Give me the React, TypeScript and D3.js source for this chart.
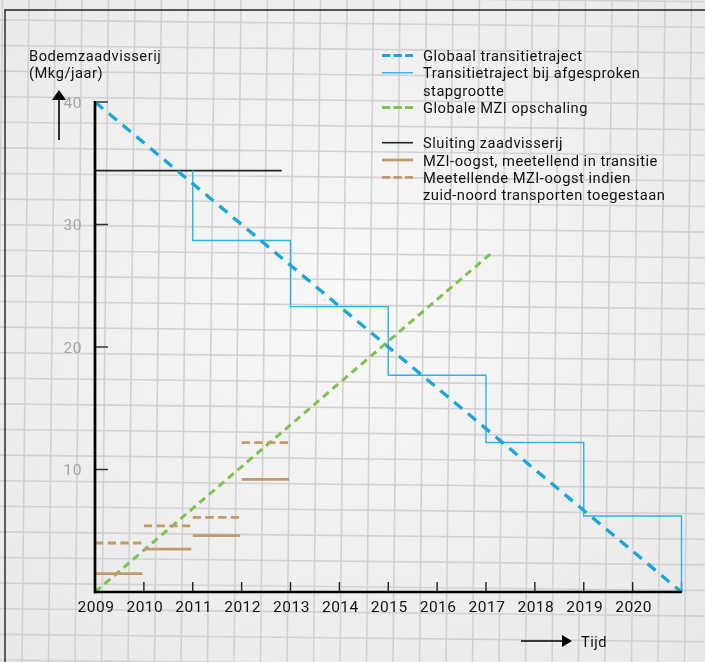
import React from "react";
import * as d3 from "d3";

const W = 705;
const H = 662;

const yearTicks = [2009, 2010, 2011, 2012, 2013, 2014, 2015, 2016, 2017, 2018, 2019, 2020];
const yTicks = [10, 20, 30, 40];

// Global transition trajectory (dashed blue)
const globalTransition = [
  { x: 2009, y: 40 },
  { x: 2021, y: 0 },
];
// Stepped transition trajectory (solid blue)
const stepYears = [2011, 2013, 2015, 2017, 2019, 2021];
const stepValues = [34.4, 28.7, 23.3, 17.7, 12.2, 6.2, 0];
// Global MZI scaling (dashed green)
const globalMZI = [
  { x: 2009, y: 0 },
  { x: 2017.12, y: 27.7 },
];
// Closure seed fishery (black)
const closure = [
  { x: 2009, y: 34.4 },
  { x: 2012.82, y: 34.4 },
];
// MZI harvest
const mziStart = [2009, 2010, 2011, 2012];
const mziSolid = [1.5, 3.5, 4.6, 9.2];
const mziDashed = [4.0, 5.4, 6.1, 12.2];

const legendItems = [
  { label: ["Globaal transitietraject"], color: "#1ba6da", dash: "8.3 3.3", width: 3, gap: 0 },
  { label: ["Transitietraject bij afgesproken", "stapgrootte"], color: "#2ab3e3", dash: null, width: 1.4, gap: 0 },
  { label: ["Globale MZI opschaling"], color: "#7cc251", dash: "8.3 3.3", width: 3, gap: 0 },
  { label: ["Sluiting zaadvisserij"], color: "#222", dash: null, width: 1.6, gap: 1 },
  { label: ["MZI-oogst, meetellend in transitie"], color: "#c09a68", dash: null, width: 2.8, gap: 0 },
  { label: ["Meetellende MZI-oogst indien", "zuid-noord transporten toegestaan"], color: "#c09a68", dash: "8.3 3.3", width: 2.8, gap: 0 },
];

const FONT = "Roboto, 'Open Sans', sans-serif";
const FS = 14.7;
const LS = 0.5;

export default function App() {
  const x = d3.scaleLinear().domain([2009, 2021]).range([95, 681.5]);
  const y = d3.scaleLinear().domain([0, 40]).range([592, 102]);
  const line = d3
    .line<{ x: number; y: number }>()
    .x((d) => x(d.x))
    .y((d) => y(d.y));

  // stepped path
  const stepPts: { x: number; y: number }[] = [];
  stepPts.push({ x: stepYears[0], y: stepValues[0] });
  stepYears.forEach((yr, i) => {
    stepPts.push({ x: yr, y: stepValues[i] });
    stepPts.push({ x: yr, y: stepValues[i + 1] });
    if (i + 1 < stepYears.length) stepPts.push({ x: stepYears[i + 1], y: stepValues[i + 1] });
  });

  // grid of the paper
  const vGrid = d3.range(-1, W + 30, 26.5);
  const hGrid = d3.range(-2, H + 30, 25.6);

  // legend layout
  let ly = 61;
  const legendRows: { item: (typeof legendItems)[number]; y: number }[] = [];
  legendItems.forEach((it) => {
    if (it.gap) ly += 18;
    legendRows.push({ item: it, y: ly });
    ly += 17.3 * it.label.length;
  });

  return (
    <div style={{ position: "fixed", left: 0, top: 0 }}>
      <svg width={W} height={H} style={{ display: "block", fontFamily: FONT, letterSpacing: LS }}>
        <defs>
          <radialGradient id="paper" cx="50%" cy="45%" r="75%">
            <stop offset="0%" stopColor="#f8f8f8" />
            <stop offset="100%" stopColor="#e8e8e8" />
          </radialGradient>
        </defs>
        <rect x={0} y={0} width={W} height={H} fill="url(#paper)" />
        <g stroke="#cfcfcf" strokeWidth={1.6} opacity={0.9} transform="rotate(0.6 352 331)">
          {vGrid.map((gx) => (
            <line key={"v" + gx} x1={gx} x2={gx} y1={-20} y2={H + 20} />
          ))}
          {hGrid.map((gy) => (
            <line key={"h" + gy} x1={-20} x2={W + 20} y1={gy} y2={gy} />
          ))}
        </g>
        {/* frame */}
        <path d={`M5,${H + 5} V10 H${W + 5}`} fill="none" stroke="#222" strokeWidth={1.4} />

        {/* y title */}
        <text x={29} y={61} fontSize={FS} fill="#111">Bodemzaadvisserij</text>
        <text x={29} y={78} fontSize={FS} fill="#111">(Mkg/jaar)</text>
        {/* y arrow */}
        <line x1={59} x2={59} y1={140} y2={98} stroke="#000" strokeWidth={1.6} />
        <path d="M52,100 L59,90 L66,100 Z" fill="#000" />

        {/* y ticks */}
        {yTicks.map((t) => (
          <g key={t}>
            <line x1={95} x2={108} y1={y(t)} y2={y(t)} stroke="#333" strokeWidth={1.5} />
            <text x={82} y={y(t)} dy="0.36em" textAnchor="end" fontSize={15.5} fill="#a3a3a3">
              {t}
            </text>
          </g>
        ))}

        {/* x ticks */}
        {[...yearTicks.slice(1), 2021].map((t) => (
          <line key={t} x1={x(t)} x2={x(t)} y1={y(0)} y2={y(0) - 10} stroke="#222" strokeWidth={1.4} />
        ))}
        {yearTicks.map((t) => (
          <text key={t} x={x(t) + 1} y={612} textAnchor="middle" fontSize={15.5} fill="#111">
            {t}
          </text>
        ))}

        {/* series */}
        <path d={line(closure) || ""} fill="none" stroke="#222" strokeWidth={1.6} />
        <path d={line(stepPts) || ""} fill="none" stroke="#2ab3e3" strokeWidth={1.4} />
        <path
          d={line(globalTransition) || ""}
          fill="none"
          stroke="#1ba6da"
          strokeWidth={3.3}
          strokeDasharray="10.5 7.5"
        />
        <path
          d={line(globalMZI) || ""}
          fill="none"
          stroke="#7cc251"
          strokeWidth={3}
          strokeDasharray="7.5 5"
        />
        {mziStart.map((s, i) => (
          <g key={s}>
            <line
              x1={x(s)}
              x2={x(s + 0.97)}
              y1={y(mziSolid[i])}
              y2={y(mziSolid[i])}
              stroke="#c09a68"
              strokeWidth={2.8}
            />
            <line
              x1={x(s)}
              x2={x(s + 0.97)}
              y1={y(mziDashed[i])}
              y2={y(mziDashed[i])}
              stroke="#c09a68"
              strokeWidth={2.8}
              strokeDasharray="8.3 4.4"
            />
          </g>
        ))}

        {/* axes */}
        <line x1={95} x2={95} y1={y(40) - 1} y2={y(0) + 1.3} stroke="#000" strokeWidth={2.7} />
        <line x1={94} x2={682} y1={y(0)} y2={y(0)} stroke="#000" strokeWidth={2.7} />

        {/* x arrow */}
        <line x1={521} x2={563} y1={641} y2={641} stroke="#000" strokeWidth={1.6} />
        <path d="M562,635 L572,641 L562,647 Z" fill="#000" />
        <text x={581} y={647} fontSize={FS} fill="#111">Tijd</text>

        {/* legend */}
        {legendRows.map(({ item, y: ry }, i) => (
          <g key={i}>
            <line
              x1={382}
              x2={413}
              y1={ry - 5.5}
              y2={ry - 5.5}
              stroke={item.color}
              strokeWidth={item.width}
              strokeDasharray={item.dash || undefined}
            />
            {item.label.map((l, j) => (
              <text key={j} x={423} y={ry + j * 17.3} fontSize={FS} fill="#111">
                {l}
              </text>
            ))}
          </g>
        ))}
      </svg>
    </div>
  );
}
